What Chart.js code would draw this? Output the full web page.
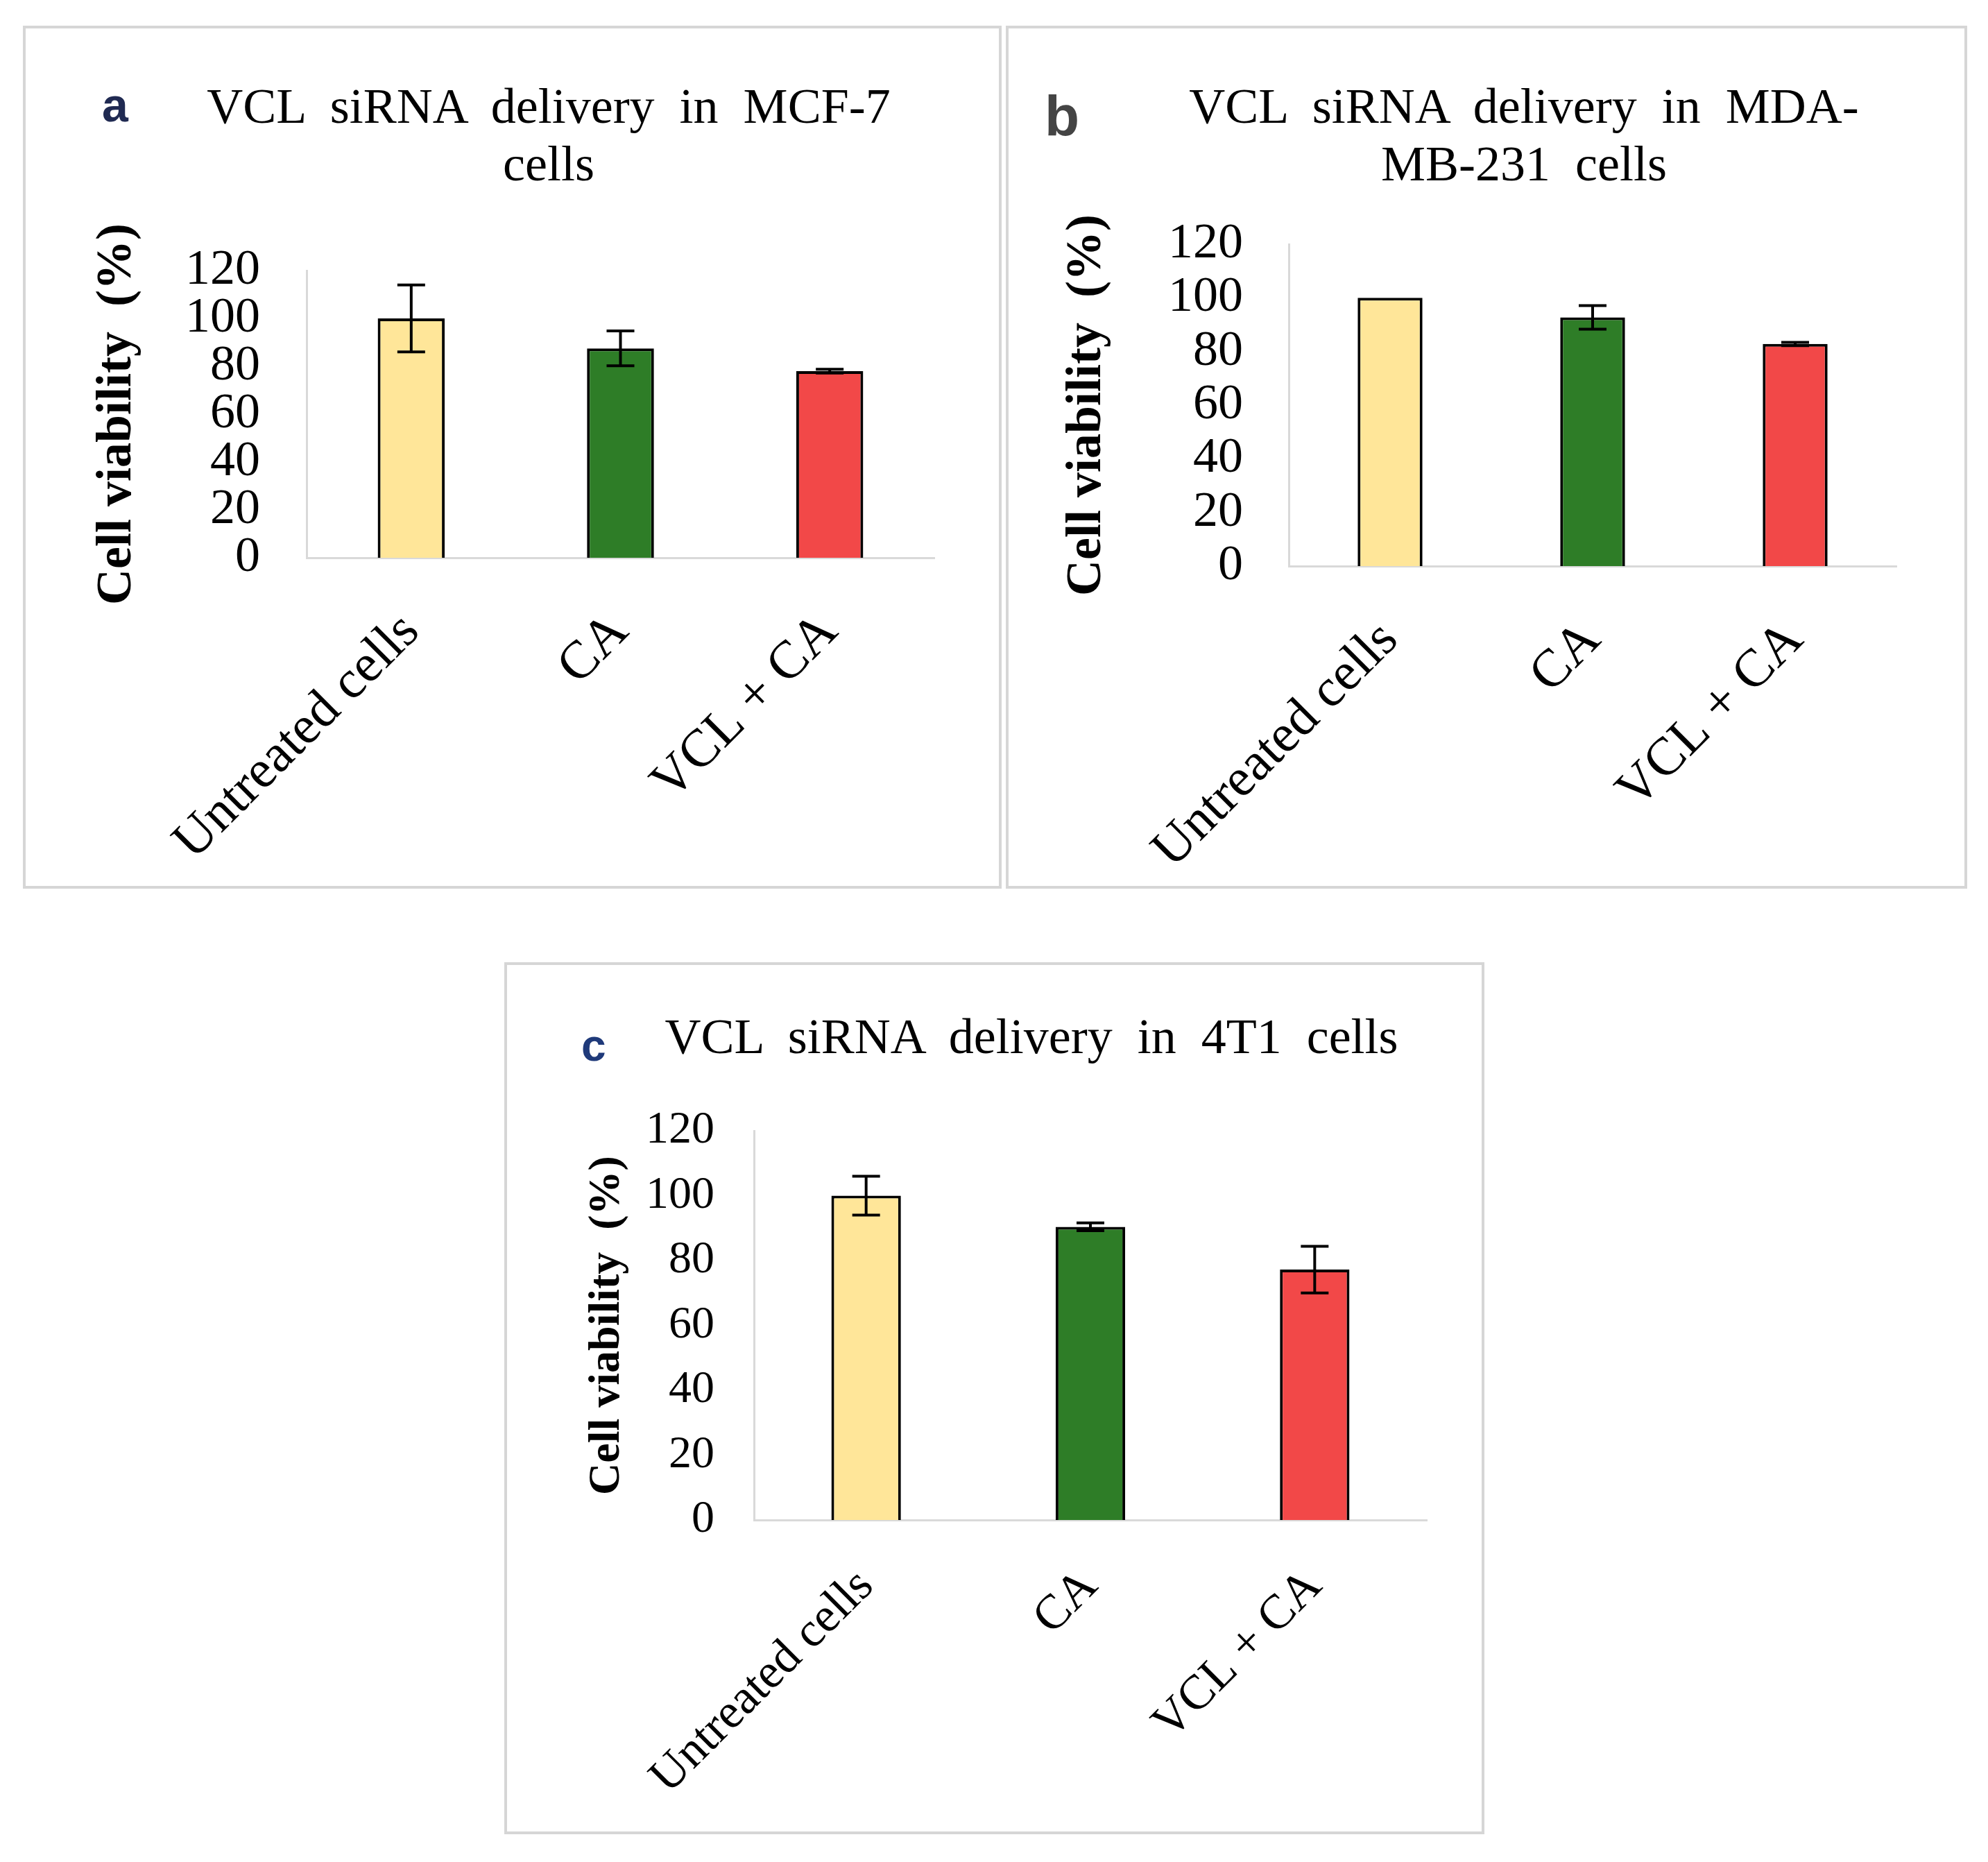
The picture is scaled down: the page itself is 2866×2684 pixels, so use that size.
<!DOCTYPE html>
<html>
<head>
<meta charset="utf-8">
<script src="https://cdn.jsdelivr.net/npm/chart.js@4.4.1/dist/chart.umd.min.js"></script>
<style>
  body { margin: 0; background: #fff; width: 2866px; height: 2684px; position: relative; overflow: hidden; }
  .frame { position: absolute; box-sizing: border-box; border: 4px solid #d6d6d6; }
  canvas { position: absolute; }
  .title { position: absolute; width: 1400px; font-family: "Liberation Serif", serif; font-size: 72px;
           line-height: 83px; text-align: center; word-spacing: 18px; color: #000; white-space: nowrap; }
  .tag { position: absolute; font-family: "Liberation Sans", sans-serif; font-weight: bold; }
</style>
</head>
<body>
<div class="frame" style="left:33px;top:37px;width:1411px;height:1244px"></div>
<div class="frame" style="left:1450px;top:37px;width:1386px;height:1244px"></div>
<div class="frame" style="left:727px;top:1387px;width:1413px;height:1257px"></div>

<canvas id="chartA" width="1411" height="1243" style="left:33px;top:37px"></canvas>
<canvas id="chartB" width="1383" height="1243" style="left:1450px;top:37px"></canvas>
<canvas id="chartC" width="1411" height="1256" style="left:728px;top:1386px"></canvas>

<div class="tag" style="left:147px;top:117px;font-size:68px;line-height:68px;color:#202a52">a</div>
<div class="tag" style="left:1506px;top:126px;font-size:82px;line-height:82px;color:#444">b</div>
<div class="tag" style="left:838px;top:1475px;font-size:64px;line-height:64px;color:#1f3a7a">c</div>

<div class="title" style="left:91px;top:112px">VCL siRNA delivery in MCF-7<br>cells</div>
<div class="title" style="left:1497px;top:112px">VCL siRNA delivery in MDA-<br>MB-231 cells</div>
<div class="title" style="left:787px;top:1453px">VCL siRNA delivery in 4T1 cells</div>

<script>
const categories = ["Untreated cells", "CA", "VCL + CA"];
const barColors = ["#FFE699", "#2E7D27", "#F24848"];

// cell viability (%) and error bar half-lengths
const mcf7Values = [100, 87.5, 78];
const mcf7Errors = [14, 7.3, 0.8];
const mdaValues = [100, 92.7, 82.8];
const mdaErrors = [0, 4.4, 0.6];
const t41Values = [100, 90.4, 77.2];
const t41Errors = [6, 1.2, 7.2];

const yMin = 0, yMax = 120, yStep = 20;

const errorBars = {
  id: "errorBars",
  afterDatasetsDraw(chart, args, opts) {
    const ctx = chart.ctx;
    const y = chart.scales.y;
    const data = chart.data.datasets[0].data;
    ctx.save();
    ctx.strokeStyle = "#000";
    ctx.lineWidth = 4;
    chart.getDatasetMeta(0).data.forEach((bar, i) => {
      const e = opts.errors[i];
      if (!e) return;
      const top = y.getPixelForValue(data[i] + e);
      const bot = y.getPixelForValue(data[i] - e);
      const cap = 20;
      ctx.beginPath();
      ctx.moveTo(bar.x, top); ctx.lineTo(bar.x, bot);
      ctx.moveTo(bar.x - cap, top); ctx.lineTo(bar.x + cap, top);
      ctx.moveTo(bar.x - cap, bot); ctx.lineTo(bar.x + cap, bot);
      ctx.stroke();
    });
    ctx.restore();
  }
};

function makeChart(id, values, errors, lay) {
  const serif = "'Liberation Serif', 'Times New Roman', serif";
  return new Chart(document.getElementById(id), {
    type: "bar",
    data: {
      labels: categories,
      datasets: [{
        data: values,
        backgroundColor: barColors,
        borderColor: "#000",
        borderWidth: 4,
        barPercentage: lay.bar,
        categoryPercentage: 1
      }]
    },
    options: {
      responsive: false,
      animation: false,
      layout: { padding: lay.padding },
      plugins: {
        legend: { display: false },
        tooltip: { enabled: false },
        errorBars: { errors: errors }
      },
      scales: {
        x: {
          grid: { display: false, drawTicks: false },
          border: { display: true, color: "#d9d9d9", width: 3 },
          ticks: {
            color: "#000",
            font: { family: serif, size: lay.xTickSize },
            minRotation: 45,
            maxRotation: 45,
            autoSkip: false,
            padding: lay.xPad
          },
          afterFit(s) { s.height = lay.xHeight; }
        },
        y: {
          min: yMin,
          max: yMax,
          grid: { display: false, drawTicks: false },
          border: { display: true, color: "#d9d9d9", width: 3 },
          ticks: {
            stepSize: yStep,
            autoSkip: false,
            color: "#000",
            font: { family: serif, size: lay.tickSize },
            padding: lay.tickPad
          },
          title: {
            display: true,
            text: "Cell viability  (%)",
            color: "#000",
            padding: 0,
            font: { family: serif, size: lay.titleSize, weight: "bold" }
          },
          afterFit(s) { s.width = lay.yWidth; }
        }
      }
    },
    plugins: [errorBars]
  });
}

makeChart("chartA", mcf7Values, mcf7Errors, {
  padding: { left: 93, top: 353, right: 97, bottom: 6 },
  yWidth: 316, xHeight: 470, tickSize: 72, xTickSize: 77, xPad: 62, tickPad: 67, titleSize: 72, bar: 0.32
});
makeChart("chartB", mdaValues, mdaErrors, {
  padding: { left: 74, top: 315, right: 99, bottom: 4 },
  yWidth: 334, xHeight: 460, tickSize: 72, xTickSize: 77, xPad: 62, tickPad: 66, titleSize: 72, bar: 0.32
});
makeChart("chartC", t41Values, t41Errors, {
  padding: { left: 109, top: 244, right: 82, bottom: 6 },
  yWidth: 250, xHeight: 445, tickSize: 66, xTickSize: 70, xPad: 55, tickPad: 57, titleSize: 64, bar: 0.31
});
</script>
</body>
</html>
